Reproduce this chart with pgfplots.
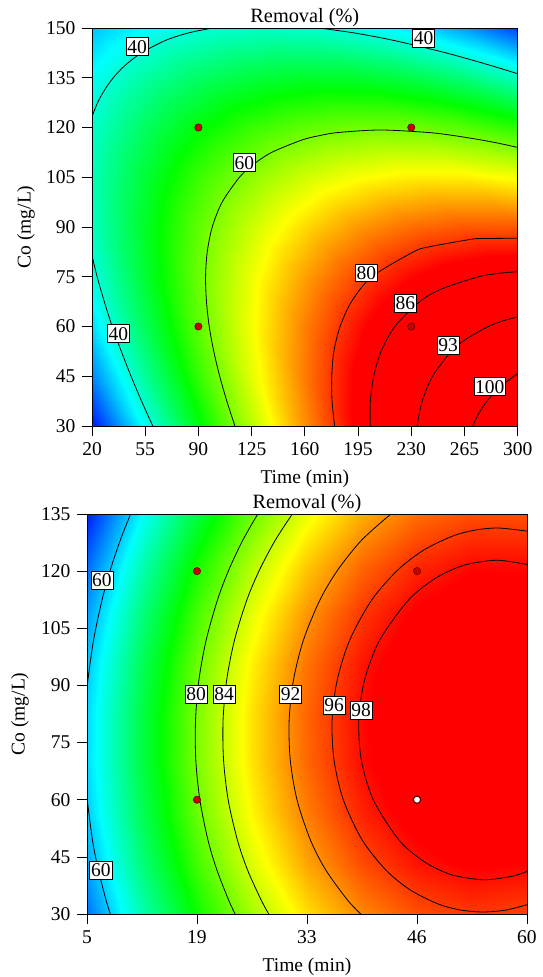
\documentclass[border=0pt]{standalone}
\usepackage{fontspec}
\setmainfont{Liberation Serif}
\usepackage{pgfplots}
\pgfplotsset{compat=1.18}
\definecolor{dpt}{RGB}{200,0,0}
\definecolor{dptedge}{RGB}{90,0,0}
\pgfplotsset{
  colormap={topmap}{rgb255(0pt)=(0,0,255) rgb255(15.25pt)=(0,255,255) rgb255(30.5pt)=(0,255,0) rgb255(45.75pt)=(255,255,0) rgb255(61pt)=(255,0,0) rgb255(84pt)=(255,0,0)},
  colormap={botmap}{rgb255(0pt)=(0,0,255) rgb255(12.125pt)=(0,255,255) rgb255(24.25pt)=(0,255,0) rgb255(36.375pt)=(255,255,0) rgb255(48.5pt)=(255,0,0) rgb255(53pt)=(255,0,0)},
}
\newcommand\fs{\fontsize{19.5}{23}\selectfont}
\newcommand\fst{\fontsize{20.3}{24}\selectfont}
\tikzset{clab/.style={draw=black, line width=0.6pt, fill=white, inner xsep=1.3pt, inner ysep=2.3pt, text height=13.2pt, text depth=0pt, font=\fs}}
\pgfplotsset{rsm/.style={
  view={0}{90}, scale only axis, enlargelimits=false,
  tick align=outside, xtick pos=bottom, ytick pos=left, ztick=\empty,
  major tick length=10pt, tick style={black, line width=0.7pt},
  axis line style={black, line width=0.9pt},
  axis on top,
  /pgf/number format/assume math mode=true,
  tick label style={font=\fs},
  every axis title/.style={at={(axis description cs:0.5,1)}, anchor=base, yshift=6pt, font=\fst},
  every axis x label/.style={at={(axis description cs:0.5,0)}, anchor=base, yshift=-57.5pt, font=\fs},
  every axis y label/.style={rotate=90, anchor=center, font=\fs},
  title={Removal (\%)}, xlabel={Time (min)}, ylabel={Co (mg/L)},
}}
\begin{document}
\fs
\begin{tikzpicture}
\path[use as bounding box] (0pt,0pt) rectangle (543pt,-977pt);
% ---------------- top plot ----------------
\begin{axis}[rsm, at={(92pt,-426pt)}, anchor=south west, width=425.7pt, height=398pt,
  xmin=20, xmax=300, ymin=30, ymax=150, xtick={20,55,...,300}, ytick={30,45,...,150},
  colormap name=topmap, point meta min=22, point meta max=106,
  ylabel style={at={(axis description cs:-0.155,0.5)}}]
\addplot3[surf, shader=interp, mesh/cols=9] table {
x y z
20 30 23.2
55 30 38.01
90 30 51.5
125 30 63.66
160 30 74.5
195 30 84.01
230 30 92.2
265 30 99.06
300 30 104.6
20 45 30.01
55 45 43.44
90 45 55.53
125 45 66.30
160 45 75.74
195 45 83.86
230 45 90.65
265 45 96.12
300 45 100.27
20 60 35.25
55 60 47.28
90 60 57.98
125 60 67.35
160 60 75.4
195 60 82.13
230 60 87.53
265 60 91.6
300 60 94.35
20 75 38.92
55 75 49.55
90 75 58.85
125 75 66.84
160 75 73.49
195 75 78.82
230 75 82.83
265 75 85.51
300 75 86.87
20 90 41.0
55 90 50.24
90 90 58.15
125 90 64.74
160 90 70.0
195 90 73.94
230 90 76.55
265 90 77.84
300 90 77.8
20 105 41.52
55 105 49.36
90 105 55.88
125 105 61.07
160 105 64.94
195 105 67.49
230 105 68.7
265 105 68.6
300 105 67.17
20 120 40.45
55 120 46.9
90 120 52.03
125 120 55.83
160 120 58.3
195 120 59.45
230 120 59.28
265 120 57.78
300 120 54.95
20 135 37.82
55 135 42.87
90 135 46.6
125 135 49.01
160 135 50.09
195 135 49.85
230 135 48.28
265 135 45.39
300 135 41.17
20 150 33.6
55 150 37.27
90 150 39.6
125 150 40.62
160 150 40.3
195 150 38.66
230 150 35.7
265 150 31.41
300 150 25.8
};
% contour lines
\addplot3[black, line width=0.8pt, smooth] coordinates {(20,123.3,0) (23.7,127.5,0) (28.2,131.25,0) (34,135,0) (41.8,138.75,0) (52.6,142.5,0) (68.3,146.25,0) (83.3,148.5,0) (99.4,150,0)};
\addplot3[black, line width=0.8pt, smooth] coordinates {(169.1,150,0) (192.6,148.5,0) (218.5,146.25,0) (252.8,142.5,0) (281.9,138.75,0) (300,136.2,0)};
\addplot3[black, line width=0.8pt, smooth] coordinates {(20,81.4,0) (23.4,75,0) (28.1,67.5,0) (33.3,60,0) (39.3,52.5,0) (45.7,45,0) (52.6,37.5,0) (60,30,0)};
\addplot3[black, line width=0.8pt, smooth] coordinates {(114,30,0) (108.7,37.5,0) (104,45,0) (100.1,52.5,0) (97.1,60,0) (95.3,67.5,0) (94.7,75,0) (95.8,82.5,0) (99.1,90,0) (105.6,97.5,0) (117,105,0) (125.8,108.75,0) (138.2,112.5,0) (158.2,116.25,0) (170.1,117.6,0) (182.1,118.5,0) (209.7,119.25,0) (241,118.5,0) (257.5,117.6,0) (275.9,116.25,0) (288,115.2,0) (300,114,0)};
\addplot3[black, line width=0.8pt, smooth] coordinates {(179.6,30,0) (177.9,37.5,0) (177.7,45,0) (179.1,52.5,0) (183.2,60,0) (190.7,67.5,0) (204.1,75,0) (231.5,82.5,0) (241.6,84,0) (268.8,86.25,0) (276.6,86.52,0) (300,86.6,0)};
\addplot3[black, line width=0.8pt, smooth] coordinates {(203,30,0) (203.1,37.5,0) (205.3,45,0) (210.2,52.5,0) (219.2,60,0) (235.6,67.5,0) (249.6,71.25,0) (274.3,75,0) (290.8,76.2,0) (300,76.5,0)};
\addplot3[black, line width=0.8pt, smooth] coordinates {(233.8,30,0) (237.2,37.5,0) (244,45,0) (256.3,52.5,0) (266.2,56.25,0) (280.7,60,0) (291,61.8,0) (300,62.9,0)};
\addplot3[black, line width=0.8pt, smooth] coordinates {(270.4,30,0) (274.4,33.75,0) (279.8,37.5,0) (287.2,41.25,0) (297.4,45,0) (300,45.8,0)};
% labels
\node[clab] at (axis cs:49.7,144.4,0) {40};
\node[clab] at (axis cs:238.1,146.9,0) {40};
\node[clab] at (axis cs:37.4,57.9,0) {40};
\node[clab] at (axis cs:120.3,109.4,0) {60};
\node[clab] at (axis cs:200.4,76.2,0) {80};
\node[clab] at (axis cs:226.2,67.0,0) {86};
\node[clab] at (axis cs:254.3,54.4,0) {93};
\node[clab] at (axis cs:281.7,41.9,0) {100};
% design points
\addplot3[only marks, mark=*, mark size=3.7pt, mark options={fill=dpt, draw=dptedge, line width=0.5pt}] coordinates {(90,120,0) (230,120,0) (90,60,0) (230,60,0)};
\end{axis}
% ---------------- bottom plot ----------------
\begin{axis}[rsm, at={(87pt,-914pt)}, anchor=south west, width=440pt, height=400pt,
  xmin=5, xmax=60, ymin=30, ymax=135, xtick={5,18.75,32.5,46.25,60}, xticklabels={5,19,33,46,60},
  ytick={30,45,...,135},
  colormap name=botmap, point meta min=50, point meta max=103,
  ylabel style={at={(axis description cs:-0.1523,0.5)}}]
\addplot3[surf, shader=interp, mesh/cols=9] table {
x y z
5 30 55.38
11.875 30 65.84
18.75 30 74.74
25.625 30 82.08
32.5 30 87.86
39.375 30 92.07
46.25 30 94.73
53.125 30 95.84
60 30 95.37
5 43.125 57.95
11.875 43.125 68.47
18.75 43.125 77.42
25.625 43.125 84.81
32.5 43.125 90.65
39.375 43.125 94.92
46.25 43.125 97.64
53.125 43.125 98.80
60 43.125 98.38
5 56.25 59.65
11.875 56.25 70.22
18.75 56.25 79.23
25.625 56.25 86.68
32.5 56.25 92.57
39.375 56.25 96.90
46.25 56.25 99.67
53.125 56.25 100.89
60 56.25 100.53
5 69.375 60.45
11.875 69.375 71.08
18.75 69.375 80.14
25.625 69.375 87.66
32.5 69.375 93.61
39.375 69.375 97.99
46.25 69.375 100.82
53.125 69.375 102.09
60 69.375 101.79
5 82.5 60.37
11.875 82.5 71.06
18.75 82.5 80.17
25.625 82.5 87.74
32.5 82.5 93.75
39.375 82.5 98.18
46.25 82.5 101.07
53.125 82.5 102.40
60 82.5 102.15
5 95.625 59.42
11.875 95.625 70.16
18.75 95.625 79.33
25.625 95.625 86.96
32.5 95.625 93.02
39.375 95.625 97.51
46.25 95.625 100.45
53.125 95.625 101.84
60 95.625 101.65
5 108.75 57.56
11.875 108.75 68.36
18.75 108.75 77.59
25.625 108.75 85.27
32.5 108.75 91.39
39.375 108.75 95.94
46.25 108.75 98.94
53.125 108.75 100.38
60 108.75 100.25
5 121.875 54.84
11.875 121.875 65.70
18.75 121.875 74.98
25.625 121.875 82.72
32.5 121.875 88.89
39.375 121.875 93.50
46.25 121.875 96.55
53.125 121.875 98.05
60 121.875 97.98
5 135 51.23
11.875 135 62.14
18.75 135 71.48
25.625 135 79.27
32.5 135 85.50
39.375 135 90.17
46.25 135 93.28
53.125 135 94.83
60 135 94.81
};
\addplot3[black, line width=0.8pt, smooth] coordinates {(10.45,135,0) (9.17,128.18,0) (7.91,120.30,0) (6.88,112.43,0) (5.82,101.93,0) (5.11,91.43,0) (5,89.1,0)};
\addplot3[black, line width=0.8pt, smooth] coordinates {(5,60.5,0) (5.68,49.43,0) (6.42,41.55,0) (7.38,33.68,0) (7.91,30,0)};
\addplot3[black, line width=0.8pt, smooth] coordinates {(26.35,135,0) (24.49,128.18,0) (22.72,120.30,0) (21.31,112.43,0) (19.90,101.93,0) (18.99,91.43,0) (18.57,80.93,0) (18.60,70.43,0) (19.11,59.93,0) (20.12,49.43,0) (21.24,41.55,0) (22.70,33.68,0) (23.52,30,0)};
\addplot3[black, line width=0.8pt, smooth] coordinates {(30.67,135,0) (28.55,128.18,0) (26.56,120.30,0) (24.98,112.43,0) (23.44,101.93,0) (22.46,91.43,0) (22.01,80.93,0) (22.07,70.43,0) (22.65,59.93,0) (23.80,49.43,0) (25.07,41.55,0) (26.77,33.68,0) (27.72,30,0)};
\addplot3[black, line width=0.8pt, smooth] coordinates {(42.99,135,0) (39.35,128.18,0) (36.34,120.30,0) (34.12,112.43,0) (32.06,101.93,0) (30.81,91.43,0) (30.27,80.93,0) (30.41,70.43,0) (31.26,59.93,0) (32.93,49.43,0) (34.85,41.55,0) (37.56,33.68,0) (39.23,30,0)};
\addplot3[black, line width=0.8pt, smooth] coordinates {(60,130.5,0) (56.44,131.32,0) (53.58,130.8,0) (50.74,129.23,0) (47.11,125.55,0) (43.85,120.30,0) (40.59,112.43,0) (37.85,101.93,0) (36.28,91.43,0) (35.64,80.93,0) (35.88,70.43,0) (37.05,59.93,0) (39.40,49.43,0) (42.36,41.55,0) (45.42,36.30,0) (48.91,32.63,0) (51.70,31.05,0) (54.54,30.53,0) (57.40,31.05,0) (60,32.45,0)};
\addplot3[black, line width=0.8pt, smooth] coordinates {(60,121.77,0) (56.28,122.86,0) (52.71,121.88,0) (50.55,120.30,0) (48.23,117.68,0) (45.19,112.43,0) (41.60,101.93,0) (39.70,91.43,0) (38.98,80.93,0) (39.29,70.43,0) (40.80,59.93,0) (43.99,49.43,0) (46.84,44.18,0) (49.07,41.55,0) (51.16,39.97,0) (54.70,38.99,0) (58.27,39.97,0) (60,41.18,0)};
\node[clab] at (axis cs:6.86,117.7,0) {60};
\node[clab] at (axis cs:6.73,41.55,0) {60};
\node[clab] at (axis cs:18.64,87.66,0) {80};
\node[clab] at (axis cs:22.15,87.66,0) {84};
\node[clab] at (axis cs:30.46,87.66,0) {92};
\node[clab] at (axis cs:35.88,84.86,0) {96};
\node[clab] at (axis cs:39.26,83.55,0) {98};
\addplot3[only marks, mark=*, mark size=3.7pt, mark options={fill=dpt, draw=dptedge, line width=0.5pt}] coordinates {(18.75,120,0) (18.75,60,0) (46.25,120,0)};
\addplot3[only marks, mark=*, mark size=3.7pt, mark options={fill=white, draw=dptedge, line width=1.2pt}] coordinates {(46.25,60,0)};
\end{axis}
\end{tikzpicture}
\end{document}
